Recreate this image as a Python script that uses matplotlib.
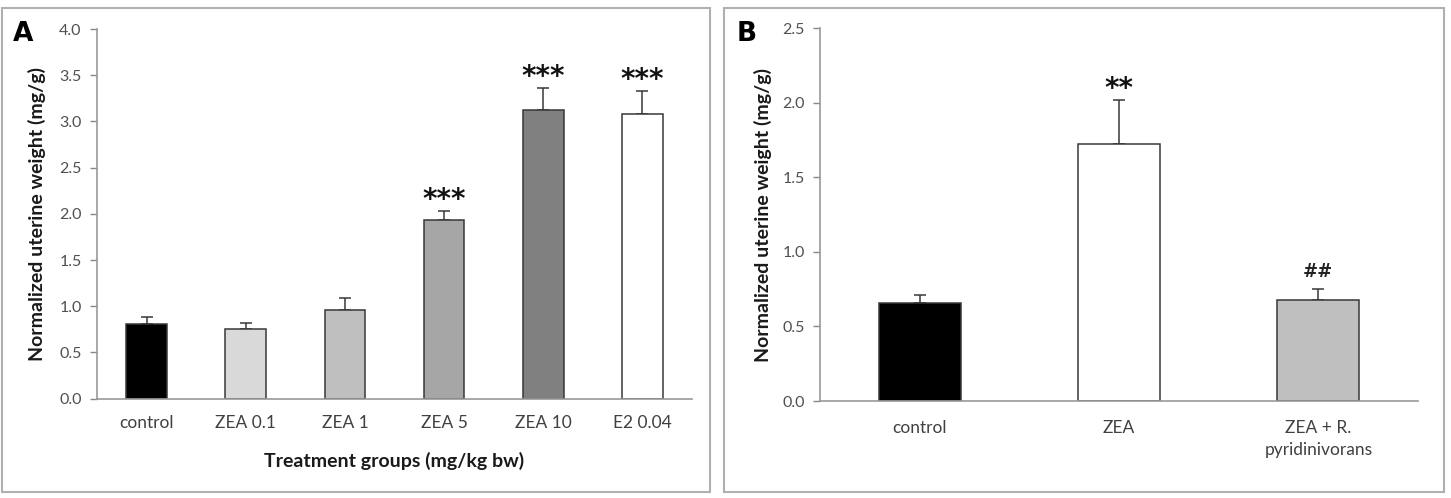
import numpy as np
import matplotlib
matplotlib.use("Agg")
import matplotlib.pyplot as plt
from matplotlib.patches import Rectangle

plt.rcParams["font.family"] = ["Lato", "DejaVu Sans"]

# -------- data ----------
groups_a = ["control", "ZEA 0.1", "ZEA 1", "ZEA 5", "ZEA 10", "E2 0.04"]
weight_a = [0.81, 0.75, 0.96, 1.93, 3.12, 3.08]
err_a = [0.07, 0.065, 0.13, 0.10, 0.24, 0.25]
marks_a = ["", "", "", "***", "***", "***"]

groups_b = ["control", "ZEA", "ZEA + R.\npyridinivorans"]
weight_b = [0.66, 1.72, 0.68]
err_b = [0.05, 0.30, 0.07]
marks_b = ["", "**", "##"]

colors_a = ["#000000", "#d9d9d9", "#bfbfbf", "#a6a6a6", "#808080", "#ffffff"]
colors_b = ["#000000", "#ffffff", "#bfbfbf"]

W, H = 1451, 498
fig = plt.figure(figsize=(W / 100, H / 100), dpi=100)

# panel frames
for x0, x1 in [(2, 710), (724, 1444)]:
    fig.patches.append(Rectangle((x0 / W, 1 - 492 / H), (x1 - x0) / W, 484 / H,
                                 transform=fig.transFigure, fill=False,
                                 edgecolor="#b0b0b0", linewidth=1.5))


def panel(rect, groups, vals, errs, cols, marks, ymax, letter, lx, ylab_x, xpad):
    ax = fig.add_axes(rect)
    x = np.arange(len(groups))
    ax.bar(x, vals, width=0.41, color=cols, edgecolor="#383838", linewidth=1.1,
           zorder=2)
    ax.errorbar(x, vals, yerr=[np.zeros(len(vals)), errs], fmt="none",
                ecolor="#383838", elinewidth=1.1, capsize=4, capthick=1.1,
                zorder=1)
    for xi, v, e, m in zip(x, vals, errs, marks):
        if not m:
            continue
        if m.startswith("*"):
            ax.annotate(m, (xi, v + e), xytext=(0, 8), textcoords="offset points",
                        ha="center", va="center", fontsize=20, fontweight="bold",
                        family="DejaVu Sans", color="#111111")
        else:
            ax.annotate(m, (xi, v + e), xytext=(0, 12), textcoords="offset points",
                        ha="center", va="center", fontsize=13, fontweight="bold",
                        family="DejaVu Serif", color="#222222")
    ax.set_xlim(-0.5, len(groups) - 0.5)
    ax.set_ylim(0, ymax)
    ticks = np.arange(0, ymax + 0.01, 0.5)
    ax.set_yticks(ticks)
    ax.set_yticklabels([f"{t:.1f}" for t in ticks])
    ax.set_xticks(x)
    ax.set_xticklabels(groups, fontsize=12.5, color="#404040", linespacing=1.45)
    ax.tick_params(axis="x", length=0, pad=xpad)
    ax.tick_params(axis="y", length=5, width=1, color="#888888", labelsize=11.5,
                   labelcolor="#505050", pad=6)
    for s in ["top", "right"]:
        ax.spines[s].set_visible(False)
    for s in ["left", "bottom"]:
        ax.spines[s].set_color("#999999")
        ax.spines[s].set_linewidth(1.2)
    ax.set_ylabel("Normalized uterine weight (mg/g)", fontsize=14,
                  fontweight="bold", color="#1a1a1a", va="center")
    ax.yaxis.set_label_coords(ylab_x, 0.5)
    fig.text(lx / W, 1 - 34 / H, letter, fontsize=19, fontweight="bold",
             family="DejaVu Sans", ha="left", va="center")
    return ax


ax_a = panel([97 / W, 1 - 398.6 / H, 595 / W, 369.6 / H], groups_a, weight_a, err_a,
             colors_a, marks_a, 4.0, "A", 13, -0.101, 12)
ax_a.set_xlabel("Treatment groups (mg/kg bw)", fontsize=14, fontweight="bold",
                color="#1a1a1a")
ax_a.xaxis.set_label_coords(0.5, -0.145)

ax_b = panel([820 / W, 1 - 401 / H, 598 / W, 373 / H], groups_b, weight_b, err_b,
             colors_b, marks_b, 2.5, "B", 737, -0.096, 14)

fig.savefig("out.png", dpi=100)
